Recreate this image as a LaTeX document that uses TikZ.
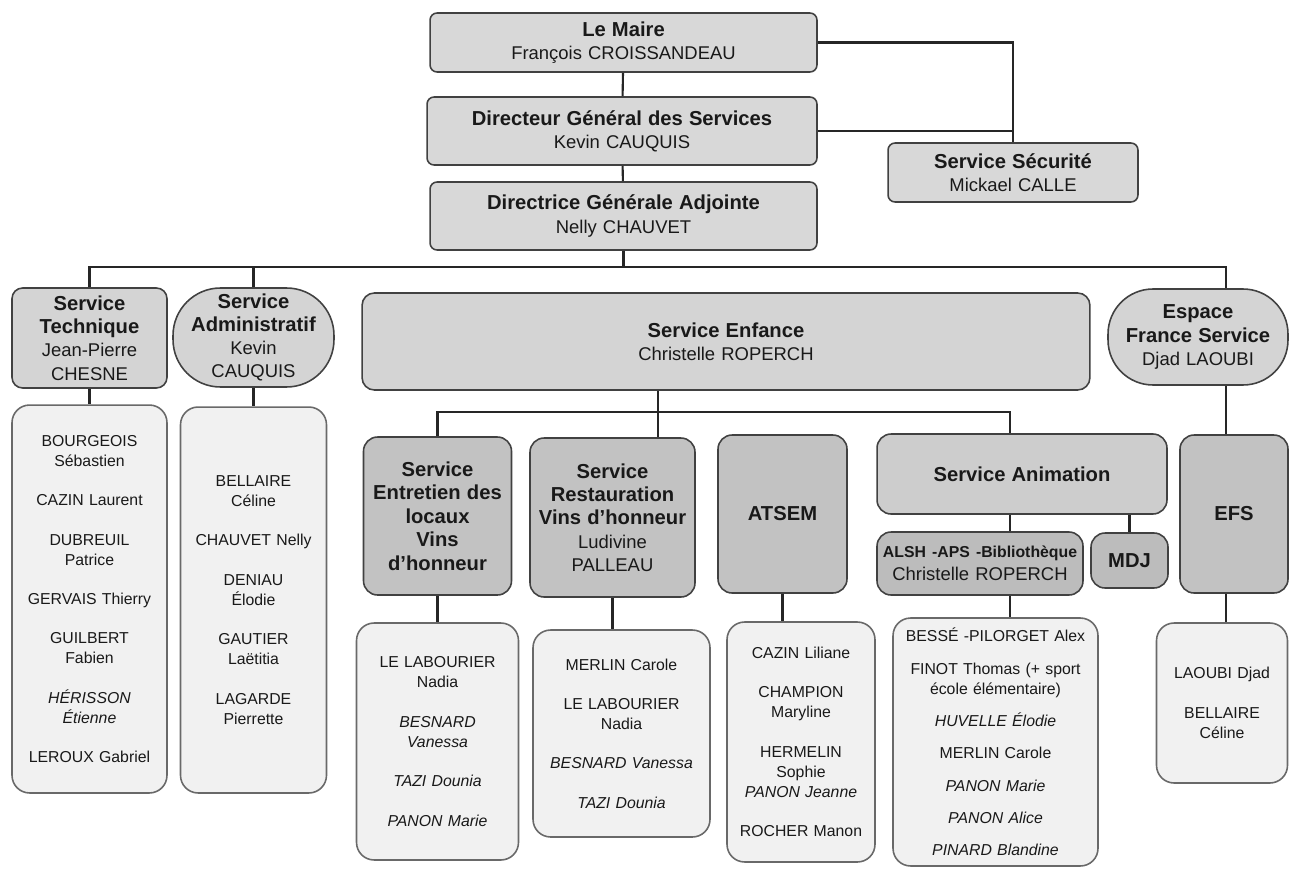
\documentclass[tikz,border=0pt]{standalone}
\usepackage{fontspec}
\setmainfont{Liberation Sans}
\usepackage{xcolor}
\usepackage{tikz}
\usetikzlibrary{positioning}
\definecolor{chef}{RGB}{216,216,216}
\definecolor{pole}{RGB}{212,212,212}
\definecolor{unit}{RGB}{194,194,194}
\definecolor{animfill}{RGB}{205,205,205}
\definecolor{cell}{RGB}{188,188,188}
\definecolor{staff}{RGB}{241,241,241}
\definecolor{rim}{RGB}{65,65,65}
\definecolor{staffrim}{RGB}{105,105,105}
\newcommand{\entete}{\fontsize{11.5}{13.4}\selectfont\bfseries}

\begin{document}
\begin{tikzpicture}[x=0.02cm, y=-0.02cm,
		card/.style={align=center, inner xsep=0pt, inner ysep=2pt, line width=0.9pt,
			draw=rim, text=black!90, font=\fontsize{10.5}{13.2}\selectfont},
		dims/.style 2 args={text width=#1, minimum width=#1, minimum height=#2},
		chefbox/.style={card, fill=chef, rounded corners=4pt},
		polebox/.style={card, fill=pole, rounded corners=7pt},
		unitbox/.style={card, fill=unit, rounded corners=8pt},
		staffbox/.style={card, fill=staff, draw=staffrim, rounded corners=10pt,
			font=\fontsize{9}{11.4}\selectfont},
		link/.style={line width=1.2pt, draw=black!85}]
		\useasboundingbox (0,0) rectangle (1290,868);
		% direction
		\node[chefbox, dims={7.74cm}{1.18cm}] (maire) at (623.5,42.5)
			{{\entete Le Maire}\\François CROISSANDEAU};
		\node[chefbox, dims={7.8cm}{1.36cm}] (dgs) at (622,131)
			{{\entete Directeur Général des Services}\\Kevin CAUQUIS};
		\node[chefbox, dims={7.74cm}{1.36cm}] (dga) at (623.5,216)
			{{\entete Directrice Générale Adjointe}\\Nelly CHAUVET};
		\node[chefbox, dims={5cm}{1.18cm}] (secu) at (1013,172.5)
			{{\entete Service Sécurité}\\Mickael CALLE};
		% services
		\node[polebox, dims={3.1cm}{2cm}, rounded corners=6pt] (tech) at (89.5,338)
			{{\entete Service\\Technique}\\Jean-Pierre\\CHESNE};
		\node[polebox, dims={3.22cm}{1.98cm}, rounded corners=0.95cm] (admin) at (253.5,337.5)
			{{\entete Service\\Administratif}\\Kevin\\CAUQUIS};
		\node[polebox, dims={14.56cm}{1.94cm}] (enfance) at (726,341.5)
			{{\entete Service Enfance}\\Christelle ROPERCH};
		\node[polebox, dims={3.6cm}{1.92cm}, rounded corners=0.9cm] (espace) at (1198,337)
			{{\entete Espace\\France Service}\\Djad LAOUBI};
		% service enfance
		\node[unitbox, dims={2.96cm}{3.16cm}] (entretien) at (437.5,516)
			{\entete Service\\Entretien des\\locaux\\Vins\\d’honneur};
		\node[unitbox, dims={3.3cm}{3.18cm}] (resto) at (612.5,517.5)
			{{\entete Service\\Restauration\\Vins d’honneur}\\Ludivine\\PALLEAU};
		\node[unitbox, dims={2.58cm}{3.16cm}] (atsem) at (782.5,514) {\entete ATSEM};
		\node[unitbox, dims={5.8cm}{1.6cm}, fill=animfill] (anim) at (1022,474)
			{\entete Service Animation};
		\node[unitbox, dims={4.12cm}{1.26cm}, fill=cell] (alsh) at (980,563.5)
			{{\fontsize{9}{10.5}\selectfont\bfseries ALSH -APS -Bibliothèque}\\Christelle ROPERCH};
		\node[unitbox, dims={1.54cm}{1.1cm}, fill=cell] (mdj) at (1129.5,560.5) {\entete MDJ};
		\node[unitbox, dims={2.16cm}{3.16cm}] (efs) at (1234,514) {\entete EFS};
		% agents
		\node[staffbox, dims={3.1cm}{7.76cm}] (techstaff) at (89.5,599)
			{BOURGEOIS\\Sébastien\\[11pt]CAZIN Laurent\\[11pt]DUBREUIL\\Patrice\\[11pt]GERVAIS Thierry\\[11pt]GUILBERT\\Fabien\\[11pt]{\itshape HÉRISSON\\Étienne}\\[11pt]LEROUX Gabriel};
		\node[staffbox, dims={2.92cm}{7.72cm}] (adminstaff) at (253.5,600)
			{BELLAIRE\\Céline\\[11pt]CHAUVET Nelly\\[11pt]DENIAU\\Élodie\\[11pt]GAUTIER\\Laëtitia\\[11pt]LAGARDE\\Pierrette};
		\node[staffbox, dims={3.24cm}{4.74cm}] (entretienstaff) at (437.5,741.5)
			{LE LABOURIER\\Nadia\\[11pt]{\itshape BESNARD\\Vanessa\\[11pt]TAZI Dounia\\[11pt]PANON Marie}};
		\node[staffbox, dims={3.54cm}{4.14cm}] (restostaff) at (621.5,733.5)
			{MERLIN Carole\\[11pt]LE LABOURIER\\Nadia\\[11pt]{\itshape BESNARD Vanessa\\[11pt]TAZI Dounia}};
		\node[staffbox, dims={2.96cm}{4.8cm}] (atsemstaff) at (801,742)
			{CAZIN Liliane\\[11pt]CHAMPION\\Maryline\\[11pt]HERMELIN\\Sophie\\{\itshape PANON Jeanne}\\[11pt]ROCHER Manon};
		\node[staffbox, dims={4.1cm}{4.96cm}] (animstaff) at (995.5,742)
			{BESSÉ -PILORGET Alex\\[7pt]FINOT Thomas (+ sport\\école élémentaire)\\[7pt]{\itshape HUVELLE Élodie}\\[7pt]MERLIN Carole\\[7pt]{\itshape PANON Marie\\[7pt]PANON Alice\\[7pt]PINARD Blandine}};
		\node[staffbox, dims={2.62cm}{3.2cm}] (efsstaff) at (1222,703)
			{LAOUBI Djad\\[11pt]BELLAIRE\\Céline};
		% liaisons
		\coordinate (bus) at (0,267);
		\coordinate (sub) at (0,412);
		\coordinate (efsaxis) at (1226,0);
		\coordinate (restoaxis) at (658,0);
		\coordinate (animaxis) at (1010,0);
		\draw[link] (maire) -- (dgs);
		\draw[link] (dgs) -- (dga);
		\draw[link] (maire.east) -| (secu.north);
		\draw[link] (dgs.east) -- (dgs.east -| secu.north);
		\draw[link] (dga) -- (dga |- bus);
		\draw[link] (tech) |- (bus -| efsaxis) -- (espace.north -| efsaxis);
		\draw[link] (admin) -- (admin |- bus);
		\draw[link] (enfance.south -| restoaxis) -- (resto.north -| restoaxis);
		\draw[link] (entretien) |- (sub -| animaxis) -- (anim.north -| animaxis);
		\draw[link] (anim.south -| animaxis) -- (alsh.north -| animaxis);
		\draw[link] (alsh.south -| animaxis) -- (animstaff.north -| animaxis);
		\draw[link] (mdj.north |- anim.south) -- (mdj);
		\draw[link] (espace.south -| efsaxis) -- (efs.north -| efsaxis);
		\draw[link] (efs.south -| efsaxis) -- (efsstaff.north -| efsaxis);
		\draw[link] (tech) -- (techstaff);
		\draw[link] (admin) -- (adminstaff);
		\draw[link] (entretien) -- (entretienstaff);
		\draw[link] (resto.south) -- (resto.south |- restostaff.north);
		\draw[link] (atsem.south) -- (atsem.south |- atsemstaff.north);
	\end{tikzpicture}
\end{document}
